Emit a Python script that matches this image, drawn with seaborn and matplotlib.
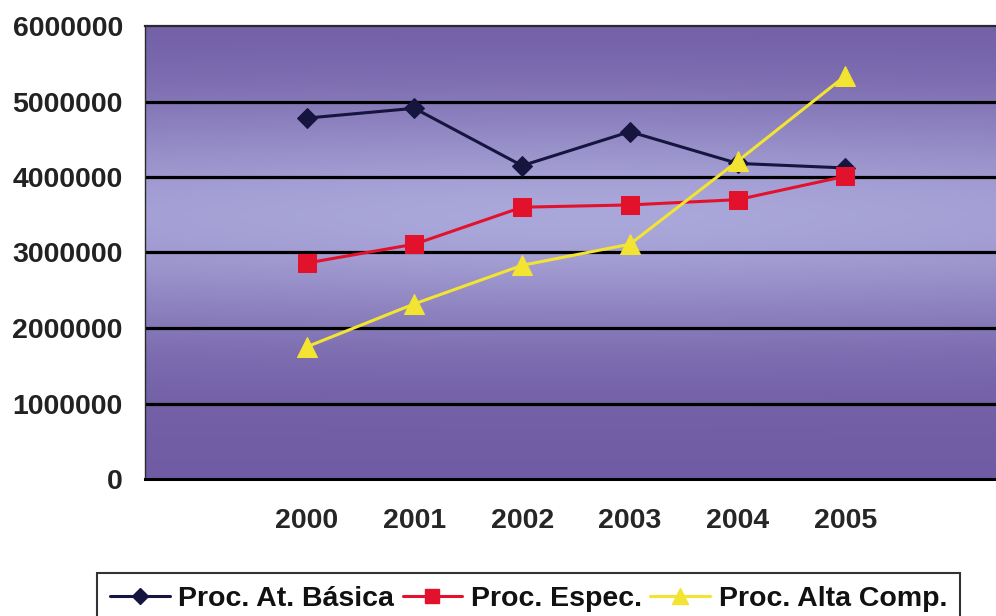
import numpy as np
import pandas as pd
import matplotlib
matplotlib.use("Agg")
import matplotlib.pyplot as plt
from matplotlib.lines import Line2D
import seaborn as sns

# Yearly totals per procedure type
years = ["2000", "2001", "2002", "2003", "2004", "2005"]
basica = [4780000, 4910000, 4150000, 4600000, 4180000, 4120000]
especializada = [2860000, 3110000, 3600000, 3630000, 3700000, 4010000]
alta_comp = [1750000, 2320000, 2830000, 3110000, 4210000, 5340000]
series_names = ["Proc. At. Básica", "Proc. Espec.", "Proc. Alta Comp."]
y_ticks = [0, 1000000, 2000000, 3000000, 4000000, 5000000, 6000000]

sns.set_theme(style="white")
plt.rcParams["font.family"] = ["Liberation Sans", "DejaVu Sans"]
plt.rcParams["font.weight"] = "bold"

FS = 20.5
W, H = 996, 616
fig = plt.figure(figsize=(W / 100, H / 100), dpi=100)
ax = fig.add_axes([145 / W, 137 / H, 862 / W, 453 / H])

pos = np.arange(len(years))
df = pd.DataFrame({
    "pos": np.tile(pos, 3),
    "valor": basica + especializada + alta_comp,
    "serie": np.repeat(series_names, len(years)),
})

colors = {"Proc. At. Básica": "#15153f",
          "Proc. Espec.": "#e3122c",
          "Proc. Alta Comp.": "#f2e431"}
markers = {"Proc. At. Básica": "D",
           "Proc. Espec.": "s",
           "Proc. Alta Comp.": "^"}
msize = {"Proc. At. Básica": 10, "Proc. Espec.": 13, "Proc. Alta Comp.": 15}

xlim = (-1.5, 6.5)
ylim = (0, 6000000)

# Purple gradient background, lighter band through the middle
ny, nx = 300, 200
yy = np.linspace(0, 1, ny)[:, None]
xx = np.linspace(0, 1, nx)[None, :]
band = np.exp(-((yy - 0.58) / 0.26) ** 2)
side = 0.85 + 0.15 * np.exp(-((xx - 0.5) / 0.5) ** 2)
light = np.clip(band * side, 0, 1)
dark = np.array([112, 92, 164]) / 255
pale = np.array([170, 167, 218]) / 255
img = dark[None, None, :] + (pale - dark)[None, None, :] * light[:, :, None]
ax.imshow(img, extent=[xlim[0], xlim[1], ylim[1], ylim[0]], aspect="auto",
          zorder=0, interpolation="bilinear")

for v in y_ticks[1:-1]:
    ax.axhline(v, color="black", lw=2.3, zorder=1)

for name in series_names:
    sub = df[df["serie"] == name]
    sns.lineplot(data=sub, x="pos", y="valor", ax=ax, color=colors[name],
                 lw=2.2, marker=markers[name], markersize=msize[name],
                 markeredgecolor=colors[name], zorder=3, legend=False)

ax.set_xlim(*xlim)
ax.set_ylim(*ylim)
ax.set_xlabel("")
ax.set_ylabel("")

ax.set_yticks(y_ticks)
ax.set_yticklabels([str(v) for v in y_ticks], fontsize=FS, fontweight="bold")
ax.set_xticks(np.arange(-1.5, 6.0, 1.0))
ax.set_xticklabels([])
ax.set_xticks(pos, minor=True)
ax.set_xticklabels(years, minor=True, fontsize=FS, fontweight="bold")
ax.tick_params(axis="x", which="major", direction="out", length=5, width=1.2,
               color="#333333")
ax.tick_params(axis="x", which="minor", length=0, pad=21)
ax.tick_params(axis="y", direction="out", length=6, width=1.2,
               color="#333333", pad=10)
ax.tick_params(axis="both", labelcolor="#222222")

for sp in ax.spines.values():
    sp.set_visible(True)
    sp.set_color("#2a2a2a")
ax.spines["bottom"].set_linewidth(2.2)
ax.spines["bottom"].set_color("black")
ax.spines["top"].set_linewidth(1.6)
ax.spines["left"].set_linewidth(1.0)
ax.spines["right"].set_visible(False)

handles = [Line2D([0], [0], color=colors[n], lw=2.2, marker=markers[n],
                  markersize=msize[n] * 0.8, markeredgecolor=colors[n])
           for n in series_names]
leg = fig.legend(handles, series_names, loc="upper left",
                 bbox_to_anchor=(97 / W, 43 / H), ncol=3, frameon=True,
                 fancybox=False, shadow=False, edgecolor="black",
                 prop={"size": FS, "weight": "bold"},
                 handlelength=2.1, handletextpad=0.3, columnspacing=0.3,
                 borderpad=0.45, borderaxespad=0)
leg.get_frame().set_linewidth(1.5)
for t in leg.get_texts():
    t.set_color("#111111")

fig.savefig("out.png", dpi=100, facecolor="white")
